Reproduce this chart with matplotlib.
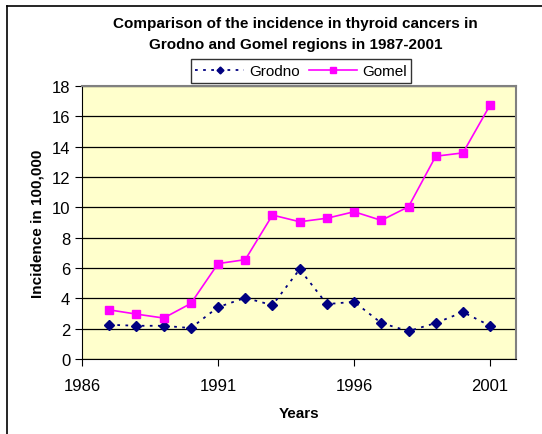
import matplotlib
matplotlib.use("Agg")
import matplotlib.pyplot as plt
from matplotlib.lines import Line2D

plt.rcParams['font.family'] = ['Liberation Sans', 'DejaVu Sans']

years = [1987, 1988, 1989, 1990, 1991, 1992, 1993, 1994, 1995, 1996, 1997, 1998, 1999, 2000, 2001]
grodno = [2.26, 2.19, 2.19, 2.04, 3.42, 4.03, 3.55, 5.92, 3.62, 3.77, 2.37, 1.84, 2.37, 3.09, 2.19]
gomel = [3.24, 2.96, 2.70, 3.66, 6.29, 6.55, 9.49, 9.05, 9.28, 9.71, 9.14, 10.04, 13.37, 13.59, 16.75]
xticks = [1986, 1991, 1996, 2001]
yticks = list(range(0, 19, 2))

fig = plt.figure(figsize=(5.42, 4.35), dpi=100)
# outer chart frame (only top and left edges visible)
fig.add_artist(Line2D([7/542, 7/542], [0, 1 - 7/435], color='black', lw=1.2, transform=fig.transFigure))
fig.add_artist(Line2D([7/542, 1], [1 - 7/435, 1 - 7/435], color='black', lw=1.2, transform=fig.transFigure))

ax = fig.add_axes([82/542, 1 - 360/435, (516 - 82)/542, (360 - 87)/435])
ax.set_facecolor('#FFFFCC')

ax.plot(years, grodno, color='#000080', ls=(0, (1.5, 3)), lw=1.3, marker='D', ms=5,
        mfc='#000080', mec='#000080', label='Grodno')
ax.plot(years, gomel, color='#FF00FF', ls='-', lw=1.2, marker='s', ms=6,
        mfc='#FF00FF', mec='#FF00FF', label='Gomel')

ax.set_xlim(1986, 2001.95)
ax.set_ylim(0, 18)
ax.set_xticks(xticks)
ax.set_yticks(yticks)
ax.yaxis.grid(True, color='black', lw=0.9)
ax.set_axisbelow(True)
ax.tick_params(axis='both', labelsize=12, direction='out', length=5, width=0.8, colors='black')
ax.tick_params(axis='x', pad=9)
for s in ['top', 'right']:
    ax.spines[s].set_color('#808080')
    ax.spines[s].set_linewidth(1.5)
for s in ['left', 'bottom']:
    ax.spines[s].set_color('black')
    ax.spines[s].set_linewidth(0.8)

ax.set_xlabel('Years', fontsize=11, fontweight='bold', labelpad=9)
ax.set_ylabel('Incidence in 100,000', fontsize=11, fontweight='bold', labelpad=5)

fig.text(0.545, 1 - 24/435, 'Comparison of the incidence in thyroid cancers in',
         ha='center', va='center', fontsize=11, fontweight='bold')
fig.text(0.545, 1 - 45/435, 'Grodno and Gomel regions in 1987-2001',
         ha='center', va='center', fontsize=11, fontweight='bold')

leg = fig.legend(loc='center', bbox_to_anchor=(301/542, 1 - 72/435), ncol=2,
                 frameon=True, fancybox=False, fontsize=11, handlelength=3.2,
                 columnspacing=0.6, handletextpad=0.3, borderpad=0.3, markerscale=0.7)
leg.get_frame().set_edgecolor('black')
leg.get_frame().set_linewidth(1.0)

fig.savefig('out.png', dpi=100)
